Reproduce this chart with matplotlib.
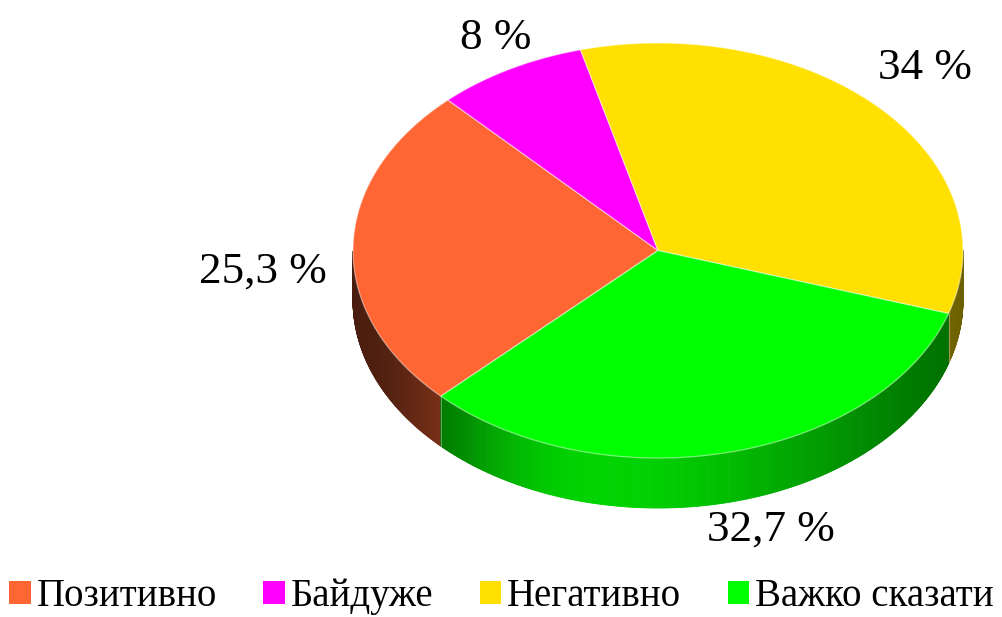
import numpy as np
import matplotlib
matplotlib.use("Agg")
import matplotlib.pyplot as plt
from matplotlib.patches import Polygon, Patch
from matplotlib.colors import to_rgb

# ---- data ----
categories = ["Позитивно", "Байдуже", "Негативно", "Важко сказати"]
values = [25.3, 8.0, 34.0, 32.7]
labels = ["25,3 %", "8 %", "34 %", "32,7 %"]
colors = ["#ff6633", "#ff00ff", "#ffe000", "#00ff00"]

# ---- layout / style ----
W, H = 1003, 617
cx, cy = 658, 250.5      # centre of top ellipse (pixels)
rx, ry = 305, 207.5
depth = 50
start = 225.4            # first slice angle, clockwise from 12 o'clock
label_pos = [(263, 272), (496, 38), (925, 68), (771, 530)]

plt.rcParams['font.family'] = ['Liberation Serif', 'DejaVu Serif']

fig = plt.figure(figsize=(W / 100, H / 100), dpi=100)
ax = fig.add_axes([0, 0, 1, 1])
ax.set_xlim(0, W)
ax.set_ylim(H, 0)
ax.axis('off')


def pt(theta_deg, dy=0.0):
    t = np.radians(theta_deg)
    return cx + rx * np.sin(t), cy - ry * np.cos(t) + dy


def side_brightness(theta):
    th = theta % 360
    d = th - 192
    if d >= 0:
        return 0.28 + 0.55 * np.exp(-(d / 33) ** 2)
    return 0.42 + 0.41 * np.exp(-(d / 50) ** 2)


total = sum(values)
angles = [start]
for v in values:
    angles.append(angles[-1] + v / total * 360)

# side walls (front half only)
for i, col in enumerate(colors):
    a0, a1 = angles[i], angles[i + 1]
    base = np.array(to_rgb(col))
    ths = np.linspace(a0, a1, 400)
    for t0, t1 in zip(ths[:-1], ths[1:]):
        tm = 0.5 * (t0 + t1)
        if np.cos(np.radians(tm)) >= 0:
            continue
        x0, y0 = pt(t0)
        x1, y1 = pt(t1)
        quad = [(x0, y0), (x1, y1), (x1, y1 + depth), (x0, y0 + depth)]
        c = np.clip(base * side_brightness(tm), 0, 1)
        ax.add_patch(Polygon(quad, closed=True, facecolor=c, edgecolor=c,
                             linewidth=0.6, zorder=1))

# vertical boundary lines on the visible side
for a in angles[:-1]:
    if np.cos(np.radians(a)) < 0:
        x, y = pt(a)
        ax.plot([x, x], [y, y + depth], color=(1, 1, 1, 0.35), lw=0.8, zorder=2)

# top wedges
for i, col in enumerate(colors):
    a0, a1 = angles[i], angles[i + 1]
    ths = np.linspace(a0, a1, 300)
    poly = [(cx, cy)] + [pt(t) for t in ths]
    ax.add_patch(Polygon(poly, closed=True, facecolor=col,
                         edgecolor=(1, 1, 1, 0.45), linewidth=0.9, zorder=3))

# labels
for lab, (lx, ly) in zip(labels, label_pos):
    ax.text(lx, ly, lab, fontsize=32.5, ha='center', va='center', color='black', zorder=5)

# legend
handles = [Patch(facecolor=c, edgecolor='none') for c in colors]
leg = fig.legend(handles, categories, loc='lower center', ncol=4,
                 bbox_to_anchor=(0.5, -0.035), frameon=False,
                 prop={'size': 28}, handlelength=0.55, handleheight=0.55,
                 handletextpad=0.15, columnspacing=1.2, borderaxespad=0.2)

fig.savefig("out.png", dpi=100)
